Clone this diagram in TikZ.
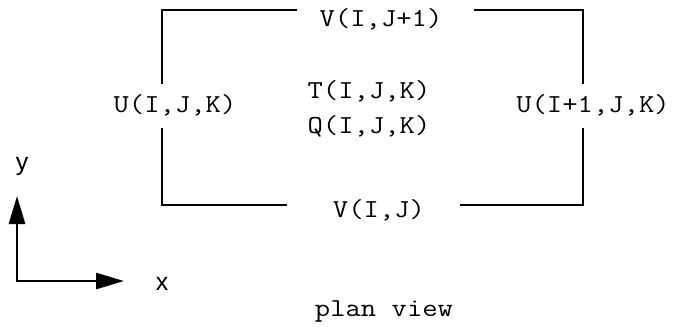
\documentclass[tikz,border=0pt]{standalone}
\usepackage{fontspec}
\usepackage{graphicx}
\setsansfont{Liberation Sans}
\usetikzlibrary{arrows.meta}
% wide typewriter lettering for the variable names
\newcommand{\wtt}[1]{\scalebox{1.15}[1]{#1}}
\begin{document}
\begin{tikzpicture}[x=1bp,y=-1bp,
  wall/.style={line width=2.8bp,line cap=rect},
  lbl/.style={inner sep=0pt,font=\ttfamily\fontsize{26}{28}\selectfont},
  axlbl/.style={inner sep=0pt,font=\sffamily\fontsize{25}{27}\selectfont},
  axis/.style={line width=2.8bp,-{Triangle[length=28bp,width=16bp]}}]
\useasboundingbox (0,0) rectangle (674,328);
% grid cell outline corners and wall breaks
\coordinate (tl) at (162,10);
\coordinate (tr) at (583,10);
\coordinate (bl) at (162,205);
\coordinate (br) at (583,205);
\coordinate (tlgap) at (296,10);
\coordinate (trgap) at (475,10);
\coordinate (blgap) at (286,205);
\coordinate (brgap) at (461,205);
\coordinate (lup) at (162,83);
\coordinate (rup) at (583,83);
\coordinate (llo) at (162,129);
\coordinate (rlo) at (583,129);
\draw[wall] (lup) -- (tl) -- (tlgap);
\draw[wall] (trgap) -- (tr) -- (rup);
\draw[wall] (llo) -- (bl) -- (blgap);
\draw[wall] (brgap) -- (br) -- (rlo);
% staggered variable positions
\node[lbl] (vtop) at (381,19) {\wtt{V(I,J+1)}};
\node[lbl] (uleft) at (175,105) {\wtt{U(I,J,K)}};
\node[lbl] (tc) at (369,91) {\wtt{T(I,J,K)}};
\node[lbl] (qc) at (369,126) {\wtt{Q(I,J,K)}};
\node[lbl] (uright) at (593,105) {\wtt{U(I+1,J,K)}};
\node[lbl] (vbot) at (379,210) {\wtt{V(I,J)}};
\node[lbl] (title) at (384,311) {\wtt{plan view}};
% axes
\coordinate (o) at (17,281);
\coordinate (ytip) at (17,196);
\coordinate (xtip) at (124,281);
\draw[axis] ([yshift=-1.4bp]o) -- (ytip);
\draw[axis] (o) -- (xtip);
\node[axlbl,anchor=base] (ylab) at (22,170) {y};
\node[axlbl,anchor=base] (xlab) at (162,290) {x};
\end{tikzpicture}
\end{document}
